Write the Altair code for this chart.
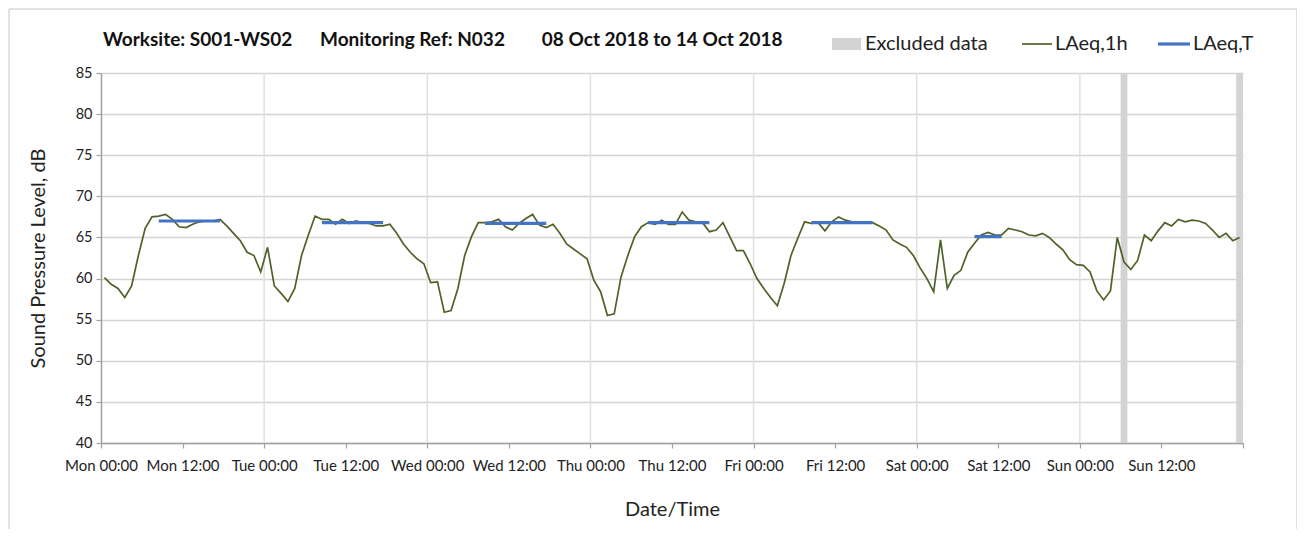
import altair as alt
import pandas as pd

# ---------------- data ----------------
hour_mid = [h + 0.5 for h in range(168)]
laeq_1h = [
    # Mon
    60.1, 59.3, 58.8, 57.7, 59.1, 62.8, 66.1, 67.5, 67.6, 67.8, 67.2, 66.3,
    66.2, 66.6, 66.9, 67.0, 67.0, 67.2, 66.4, 65.5, 64.6, 63.2, 62.8, 60.8,
    # Tue
    63.8, 59.1, 58.2, 57.2, 58.8, 62.8, 65.3, 67.6, 67.2, 67.2, 66.6, 67.2,
    66.7, 67.0, 66.8, 66.7, 66.4, 66.4, 66.6, 65.5, 64.2, 63.2, 62.4, 61.8,
    # Wed
    59.5, 59.6, 55.9, 56.1, 58.8, 62.8, 65.1, 66.8, 66.8, 66.9, 67.2, 66.3,
    65.9, 66.7, 67.3, 67.8, 66.5, 66.2, 66.6, 65.5, 64.2, 63.6, 63.0, 62.4,
    # Thu
    59.8, 58.4, 55.5, 55.7, 60.2, 62.8, 65.1, 66.3, 66.8, 66.6, 67.1, 66.6,
    66.6, 68.1, 67.1, 66.9, 66.8, 65.7, 65.9, 66.8, 65.1, 63.4, 63.4, 61.8,
    # Fri
    60.0, 58.8, 57.7, 56.7, 59.4, 62.8, 64.9, 66.9, 66.7, 66.8, 65.8, 66.9,
    67.5, 67.1, 66.9, 66.9, 66.9, 66.8, 66.4, 65.9, 64.7, 64.2, 63.8, 62.8,
    # Sat
    61.3, 60.0, 58.4, 64.7, 58.8, 60.4, 61.0, 63.2, 64.3, 65.3, 65.6, 65.3,
    65.3, 66.1, 65.9, 65.7, 65.3, 65.2, 65.5, 65.0, 64.2, 63.5, 62.3, 61.7,
    # Sun
    61.6, 60.8, 58.5, 57.4, 58.5, 65.0, 62.0, 61.1, 62.2, 65.3, 64.6, 65.8,
    66.8, 66.4, 67.2, 66.9, 67.1, 67.0, 66.7, 65.9, 65.0, 65.5, 64.6, 65.0,
]

laeqT_start = [8.5, 32.5, 56.5, 80.5, 104.5, 128.5]
laeqT_end = [17.5, 41.5, 65.5, 89.5, 113.5, 132.5]
laeqT_value = [67.0, 66.8, 66.7, 66.8, 66.8, 65.1]

excluded_start = [150, 167]
excluded_end = [151, 168]

day_bounds = [24, 48, 72, 96, 120, 144]
tick_values = [0, 12, 24, 36, 48, 60, 72, 84, 96, 108, 120, 132, 144, 156, 168]
tick_labels = ["Mon 00:00", "Mon 12:00", "Tue 00:00", "Tue 12:00", "Wed 00:00",
               "Wed 12:00", "Thu 00:00", "Thu 12:00", "Fri 00:00", "Fri 12:00",
               "Sat 00:00", "Sat 12:00", "Sun 00:00", "Sun 12:00", ""]
y_ticks = [40, 45, 50, 55, 60, 65, 70, 75, 80, 85]

NB = "\u00a0"
title_text = ("Worksite: S001-WS02" + NB * 6 + "Monitoring Ref: N032" + NB * 8
              + "08 Oct 2018 to 14 Oct 2018")
legend_names = ["Excluded data", "LAeq,1h", "LAeq,T"]

# ---------------- styles ----------------
FONT = "Lato"
W, H = 1142, 370
GREEN = "#4f6228"
BLUE = "#4472c4"
BAND = "#d3d3d3"
TXT = "#222222"

df_line = pd.DataFrame({"hour": hour_mid, "level": laeq_1h})
df_T = pd.DataFrame({"start": laeqT_start, "end": laeqT_end, "level": laeqT_value})
df_ex = pd.DataFrame({"start": excluded_start, "end": excluded_end})
df_days = pd.DataFrame({"hour": day_bounds})
df_one = pd.DataFrame({"t": [title_text]})

xs = alt.Scale(domain=[0, 168], nice=False, zero=False)
ys = alt.Scale(domain=[40, 85], nice=False, zero=False)

label_js = "[" + ",".join("'" + s + "'" for s in tick_labels) + "][round(datum.value/12)]"

x_axis = alt.Axis(
    values=tick_values, labelExpr=label_js, grid=False, title="Date/Time",
    domainColor="#a0a0a0", domainWidth=1.5, tickColor="#a0a0a0", tickSize=5, tickWidth=1.2,
    labelFont=FONT, labelFontSize=15, labelColor=TXT, labelPadding=10,
    titleFont=FONT, titleFontSize=20, titleFontWeight="normal", titleColor=TXT,
    titlePadding=26, labelOverlap=False, labelFlush=False,
)
y_axis = alt.Axis(
    values=y_ticks, grid=True, gridColor="#d4d4d4", gridWidth=1.5,
    title="Sound Pressure Level, dB",
    domainColor="#a0a0a0", domainWidth=1.5, tickColor="#a0a0a0", tickSize=5, tickWidth=1.2,
    labelFont=FONT, labelFontSize=14.5, labelColor=TXT, labelPadding=4,
    titleFont=FONT, titleFontSize=20, titleFontWeight="normal", titleColor=TXT,
    titlePadding=27,
)

bands = alt.Chart(df_ex).mark_rect(color=BAND).encode(
    x=alt.X("start:Q", scale=xs, axis=x_axis),
    x2="end:Q",
    y=alt.value(0),
    y2=alt.value(H),
)

day_rules = alt.Chart(df_days).mark_rule(color="#e0e0e0", strokeWidth=1.5).encode(
    x=alt.X("hour:Q", scale=xs, axis=x_axis),
    y=alt.value(0),
    y2=alt.value(H),
)

line = alt.Chart(df_line).mark_line(color=GREEN, strokeWidth=1.7).encode(
    x=alt.X("hour:Q", scale=xs, axis=x_axis),
    y=alt.Y("level:Q", scale=ys, axis=y_axis),
)

laeqT = alt.Chart(df_T).mark_rule(color=BLUE, strokeWidth=3.2).encode(
    x=alt.X("start:Q", scale=xs, axis=x_axis),
    x2="end:Q",
    y=alt.Y("level:Q", scale=ys, axis=y_axis),
)

# title text (plot origin is at page x=101, y=73)
title = alt.Chart(df_one).mark_text(
    align="left", baseline="middle", font=FONT, fontSize=19, fontWeight="bold", color="#111111"
).encode(x=alt.value(2), y=alt.value(-33), text="t:N")

# legend
leg_y = -29
leg_rect = alt.Chart(df_one).mark_rect(color=BAND).encode(
    x=alt.value(731), x2=alt.value(760), y=alt.value(leg_y - 6), y2=alt.value(leg_y + 6)
)
leg_green = alt.Chart(df_one).mark_rule(color=GREEN, strokeWidth=1.7).encode(
    x=alt.value(921), x2=alt.value(951), y=alt.value(leg_y)
)
leg_blue = alt.Chart(df_one).mark_rule(color=BLUE, strokeWidth=3.2).encode(
    x=alt.value(1057), x2=alt.value(1089), y=alt.value(leg_y)
)
df_leg = pd.DataFrame({"name": legend_names, "px": [764, 954, 1092]})
leg_text = alt.Chart(df_leg).mark_text(
    align="left", baseline="middle", font=FONT, fontSize=20, color=TXT
).encode(x=alt.X("px:Q", scale=None), y=alt.value(leg_y), text="name:N")

# outer frame of the chart area (left, top, right edges)
FRAME = "#d9d9d9"
frame_top = alt.Chart(df_one).mark_rule(color=FRAME, strokeWidth=1.5).encode(
    x=alt.value(-92), x2=alt.value(1196), y=alt.value(-64)
)
frame_left = alt.Chart(df_one).mark_rule(color=FRAME, strokeWidth=1.5).encode(
    x=alt.value(-92), y=alt.value(-64), y2=alt.value(H + 120)
)
frame_right = alt.Chart(df_one).mark_rule(color=FRAME, strokeWidth=1.5).encode(
    x=alt.value(1196), y=alt.value(-64), y2=alt.value(H + 120)
)

chart = alt.layer(
    bands, day_rules, line, laeqT, frame_top, frame_left, frame_right,
    title, leg_rect, leg_green, leg_blue, leg_text
).properties(
    width=W, height=H,
    autosize=alt.AutoSizeParams(type="none"),
    padding={"left": 93, "top": 65, "right": 54, "bottom": 86},
    background="white",
).configure_view(stroke=None)

chart.save("out.html", embed_options={"renderer": "svg", "actions": False})
